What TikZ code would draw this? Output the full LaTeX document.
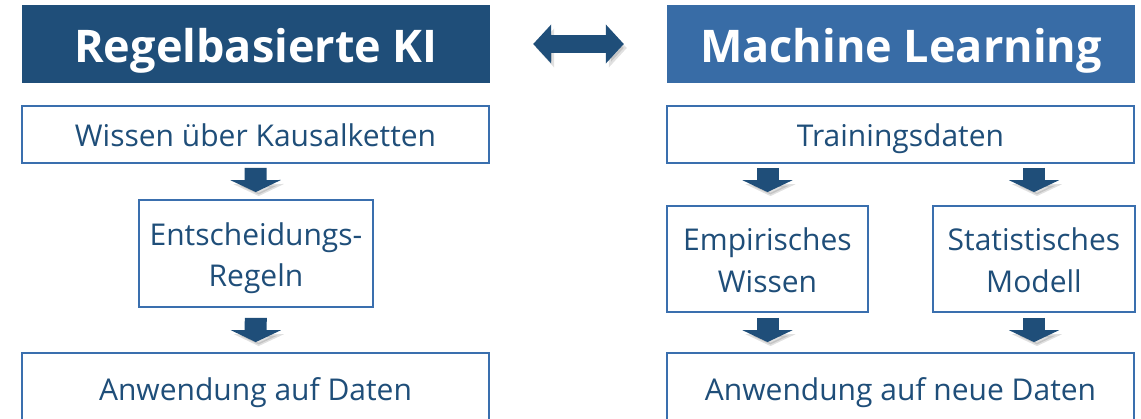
\documentclass[tikz,border=0pt]{standalone}
\usepackage{fontspec}
\setmainfont{Open Sans}
\usetikzlibrary{arrows.meta}
\definecolor{dunkelblau}{HTML}{1F4E79}
\definecolor{mittelblau}{HTML}{386CA6}
\definecolor{rahmen}{HTML}{3A6FAE}
\newcommand{\stuetze}{\rule[-8pt]{0pt}{41pt}}
\tikzset{
  titel/.style={fill=#1, text=white, inner sep=0pt, minimum width=468pt, minimum height=78pt, font=\bfseries\fontsize{45}{50}\selectfont, execute at begin node=\rule[-12pt]{0pt}{61pt}},
  kasten/.style={draw=rahmen, line width=1.8pt, fill=white, text=dunkelblau, inner sep=0pt, align=center, font=\fontsize{30}{41.5}\selectfont},
  schatten/.style={preaction={draw=black, opacity=.12, transform canvas={shift={(3pt,-4pt)}}}},
  pfeil/.style={dunkelblau, line width=22pt, -{Triangle[width=50pt,length=12pt]}, schatten},
  doppelpfeil/.style={dunkelblau, line width=18pt, {Triangle[width=38pt,length=18pt]}-{Triangle[width=38pt,length=18pt]}, schatten}
}
\begin{document}
\begin{tikzpicture}[x=1pt,y=-1pt]
\useasboundingbox (0,0) rectangle (1141,419);
% Kopfzeile
\node[titel=dunkelblau] (rk) at (256,44) {Regelbasierte KI};
\node[titel=mittelblau] (ml) at (901,44) {Machine Learning};
\draw[doppelpfeil, shorten <=43pt, shorten >=43pt] (rk) -- (ml);

% links
\node[kasten, minimum width=467pt, minimum height=57pt] (wk) at (255.5,134.5) {\stuetze Wissen über Kausalketten};
\node[kasten, minimum width=234pt, minimum height=107pt] (er) at (256,253.5) {\stuetze Entscheidungs-\\Regeln\stuetze};
\node[kasten, minimum width=467pt, minimum height=70pt] (ad) at (255.5,388) {\stuetze Anwendung auf Daten};
\draw[pfeil, shorten <=4pt, shorten >=7pt] (wk) -- (er);
\draw[pfeil, shorten <=10pt, shorten >=10pt] (er) -- (ad);

% rechts
\node[kasten, minimum width=467pt, minimum height=57pt] (td) at (900.5,134.5) {\stuetze Trainingsdaten};
\node[kasten, minimum width=201pt, minimum height=106pt] (ew) at (767.5,259) {\stuetze Empirisches\\Wissen\stuetze};
\node[kasten, minimum width=202pt, minimum height=106pt] (sm) at (1034,259) {\stuetze Statistisches\\Modell\stuetze};
\node[kasten, minimum width=467pt, minimum height=70pt] (an) at (900.5,388) {\stuetze Anwendung auf neue Daten};
\draw[pfeil, shorten <=4pt, shorten >=13pt] (td.south -| ew) -- (ew.north);
\draw[pfeil, shorten <=4pt, shorten >=13pt] (td.south -| sm) -- (sm.north);
\draw[pfeil, shorten <=5pt, shorten >=10pt] (ew.south) -- (ew.south |- an.north);
\draw[pfeil, shorten <=5pt, shorten >=10pt] (sm.south) -- (sm.south |- an.north);
\end{tikzpicture}
\end{document}
